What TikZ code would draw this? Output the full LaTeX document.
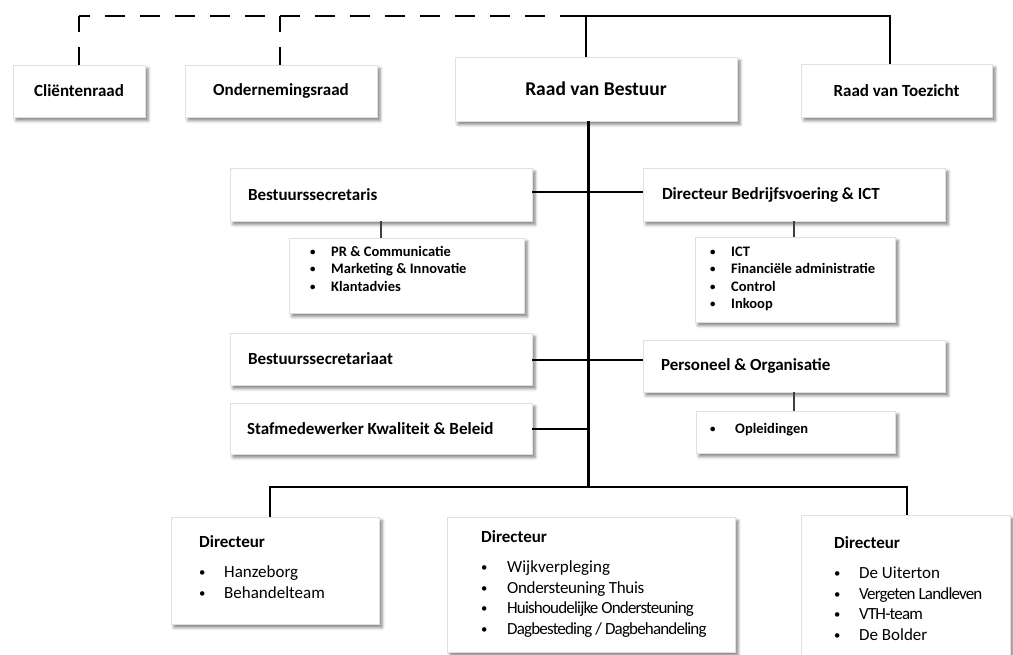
\documentclass[tikz,border=0pt]{standalone}
\usepackage{fontspec}
\setmainfont{Carlito}
\newfontfamily\condfont[LetterSpace=-4.8]{Carlito}
\newfontfamily\semicondfont[LetterSpace=-2]{Carlito}
\usetikzlibrary{shadows.blur}
\newcommand\blt[1]{\makebox[#1][l]{\raisebox{0.12ex}{\scalebox{0.75}{\textbullet}}}}
\newcommand\lbox[2]{\makebox[#1][l]{#2}}
\begin{document}
\begin{tikzpicture}[x=1pt,y=-1pt,
  box/.style={draw=black!12, line width=0.4pt, fill=white, rectangle, inner sep=0pt,
    blur shadow={shadow xshift=3pt, shadow yshift=-3.5pt, shadow blur radius=3pt, shadow opacity=50}},
  topfont/.style={font=\fontsize{17}{20}\selectfont\bfseries},
  midfont/.style={font=\fontsize{17}{20}\selectfont\bfseries},
  subfont/.style={font=\fontsize{14.5}{17.5}\selectfont\bfseries},
  botfont/.style={font=\fontsize{17}{20.5}\selectfont},
  listtxt/.style={inner sep=0pt, anchor=base west},
  mainline/.style={line width=2.6pt, black},
  dashline/.style={line width=2.8pt, black, dash pattern=on 20pt off 15pt},
  thinline/.style={line width=1.2pt, black!75},
  botline/.style={line width=1.6pt, black},
]
\useasboundingbox (0,0) rectangle (1013,654);

% top row
\node[box, minimum width=132pt, minimum height=52pt, topfont] (cl) at (79,91) {Cliëntenraad};
\node[box, minimum width=192pt, minimum height=52pt, topfont] (or) at (281,91) {Ondernemingsraad};
\node[box, minimum width=282pt, minimum height=64pt, font=\fontsize{19.5}{22}\selectfont\bfseries] (rvb) at (596,89) {Raad van Bestuur};
\node[box, minimum width=191pt, minimum height=53pt, topfont] (rvt) at (896.5,90.5) {Raad van Toezicht};

\coordinate (tl) at (79,16);
\coordinate (to) at (280,16);
\coordinate (tm) at (566,16);
\coordinate (tb) at (586,16);
\coordinate (tt) at (890,16);

\draw[dashline, dash phase=9pt] (tl) -- (tm);
\draw[dashline, dash phase=4pt] (tl) -- (cl.north);
\draw[dashline, dash phase=4pt] (to) -- (to |- or.north);
\draw[mainline] (tm) -- (tt) -- (tt |- rvt.north);
\draw[mainline] (tb) -- (tb |- rvb.north);

% middle level
\node[box, minimum width=302pt, minimum height=53pt, midfont] (bs) at (381,194.5) {\lbox{266pt}{Bestuurssecretaris}};
\node[box, minimum width=302pt, minimum height=53pt, midfont] (dbi) at (794,194.5) {\lbox{264pt}{Directeur Bedrijfsvoering \& ICT}};
\node[box, minimum width=302pt, minimum height=52pt, midfont] (bsa) at (381,359) {\lbox{266pt}{Bestuurssecretariaat}};
\node[box, minimum width=302pt, minimum height=51pt, midfont] (smw) at (381,428.5) {\lbox{268pt}{Stafmedewerker Kwaliteit \& Beleid}};
\node[box, minimum width=302pt, minimum height=52pt, midfont] (po) at (794,366) {\lbox{266pt}{Personeel \& Organisatie}};

% sub boxes
\node[box, minimum width=235pt, minimum height=75pt] (pr) at (406.5,275.5) {};
\node[box, minimum width=200pt, minimum height=85pt] (ict) at (795,279.5) {};
\node[box, minimum width=199pt, minimum height=42pt] (opl) at (795.5,432) {};

\node[listtxt, subfont] (prt) at (310,256) {\begin{tabular}[t]{@{}l@{}}\blt{21pt}PR \& Communicatie\\ \blt{21pt}Marketing \& Innovatie\\ \blt{21pt}Klantadvies\end{tabular}};
\node[listtxt, subfont] (ictt) at (710,256) {\begin{tabular}[t]{@{}l@{}}\blt{21pt}ICT\\ \blt{21pt}Financiële administratie\\ \blt{21pt}Control\\ \blt{21pt}Inkoop\end{tabular}};
\node[listtxt, subfont] (oplt) at (710,433) {\blt{25pt}Opleidingen};

% central spine
\coordinate (cb) at (588.5,487);
\coordinate (bl) at (270,487);
\coordinate (br) at (907,487);
\draw[mainline] (cb |- rvb.south) -- (cb);
\draw[mainline] (bs.east |- 0,192) -- (dbi.west |- 0,192);
\draw[mainline] (bsa.east |- 0,360) -- (po.west |- 0,360);
\draw[mainline] (smw.east |- 0,429) -- (cb |- 0,429);

\draw[thinline] (bs.south) -- (bs.south |- pr.north);
\draw[thinline] (dbi.south) -- (dbi.south |- ict.north);
\draw[thinline] (po.south) -- (po.south |- opl.north);

% bottom level
\node[box, minimum width=208pt, minimum height=107pt] (dl) at (275,570.5) {};
\node[box, minimum width=288pt, minimum height=135pt] (dm) at (591,584.5) {};
\node[box, minimum width=209pt, minimum height=160pt] (dr) at (905.5,595) {};

\draw[botline] (bl |- dl.north) -- (bl) -- (br) -- (br |- dr.north);

\node[listtxt, botfont] (dlt) at (199,547) {\begin{tabular}[t]{@{}l@{}}\textbf{Directeur}\\[10pt] \blt{25pt}Hanzeborg\\ \blt{25pt}Behandelteam\end{tabular}};
\node[listtxt, botfont] (dmt) at (481,542) {\begin{tabular}[t]{@{}l@{}}\textbf{Directeur}\\[10pt] \blt{26pt}Wijkverpleging\\ \blt{26pt}{\semicondfont Ondersteuning Thuis}\\ \blt{26pt}{\condfont Huishoudelijke Ondersteuning}\\ \blt{26pt}{\condfont Dagbesteding / Dagbehandeling}\end{tabular}};
\node[listtxt, botfont] (drt) at (834,548) {\begin{tabular}[t]{@{}l@{}}\textbf{Directeur}\\[10pt] \blt{25pt}De Uiterton\\ \blt{25pt}{\condfont Vergeten Landleven}\\ \blt{25pt}{\condfont VTH-team}\\ \blt{25pt}De Bolder\end{tabular}};
\end{tikzpicture}
\end{document}
